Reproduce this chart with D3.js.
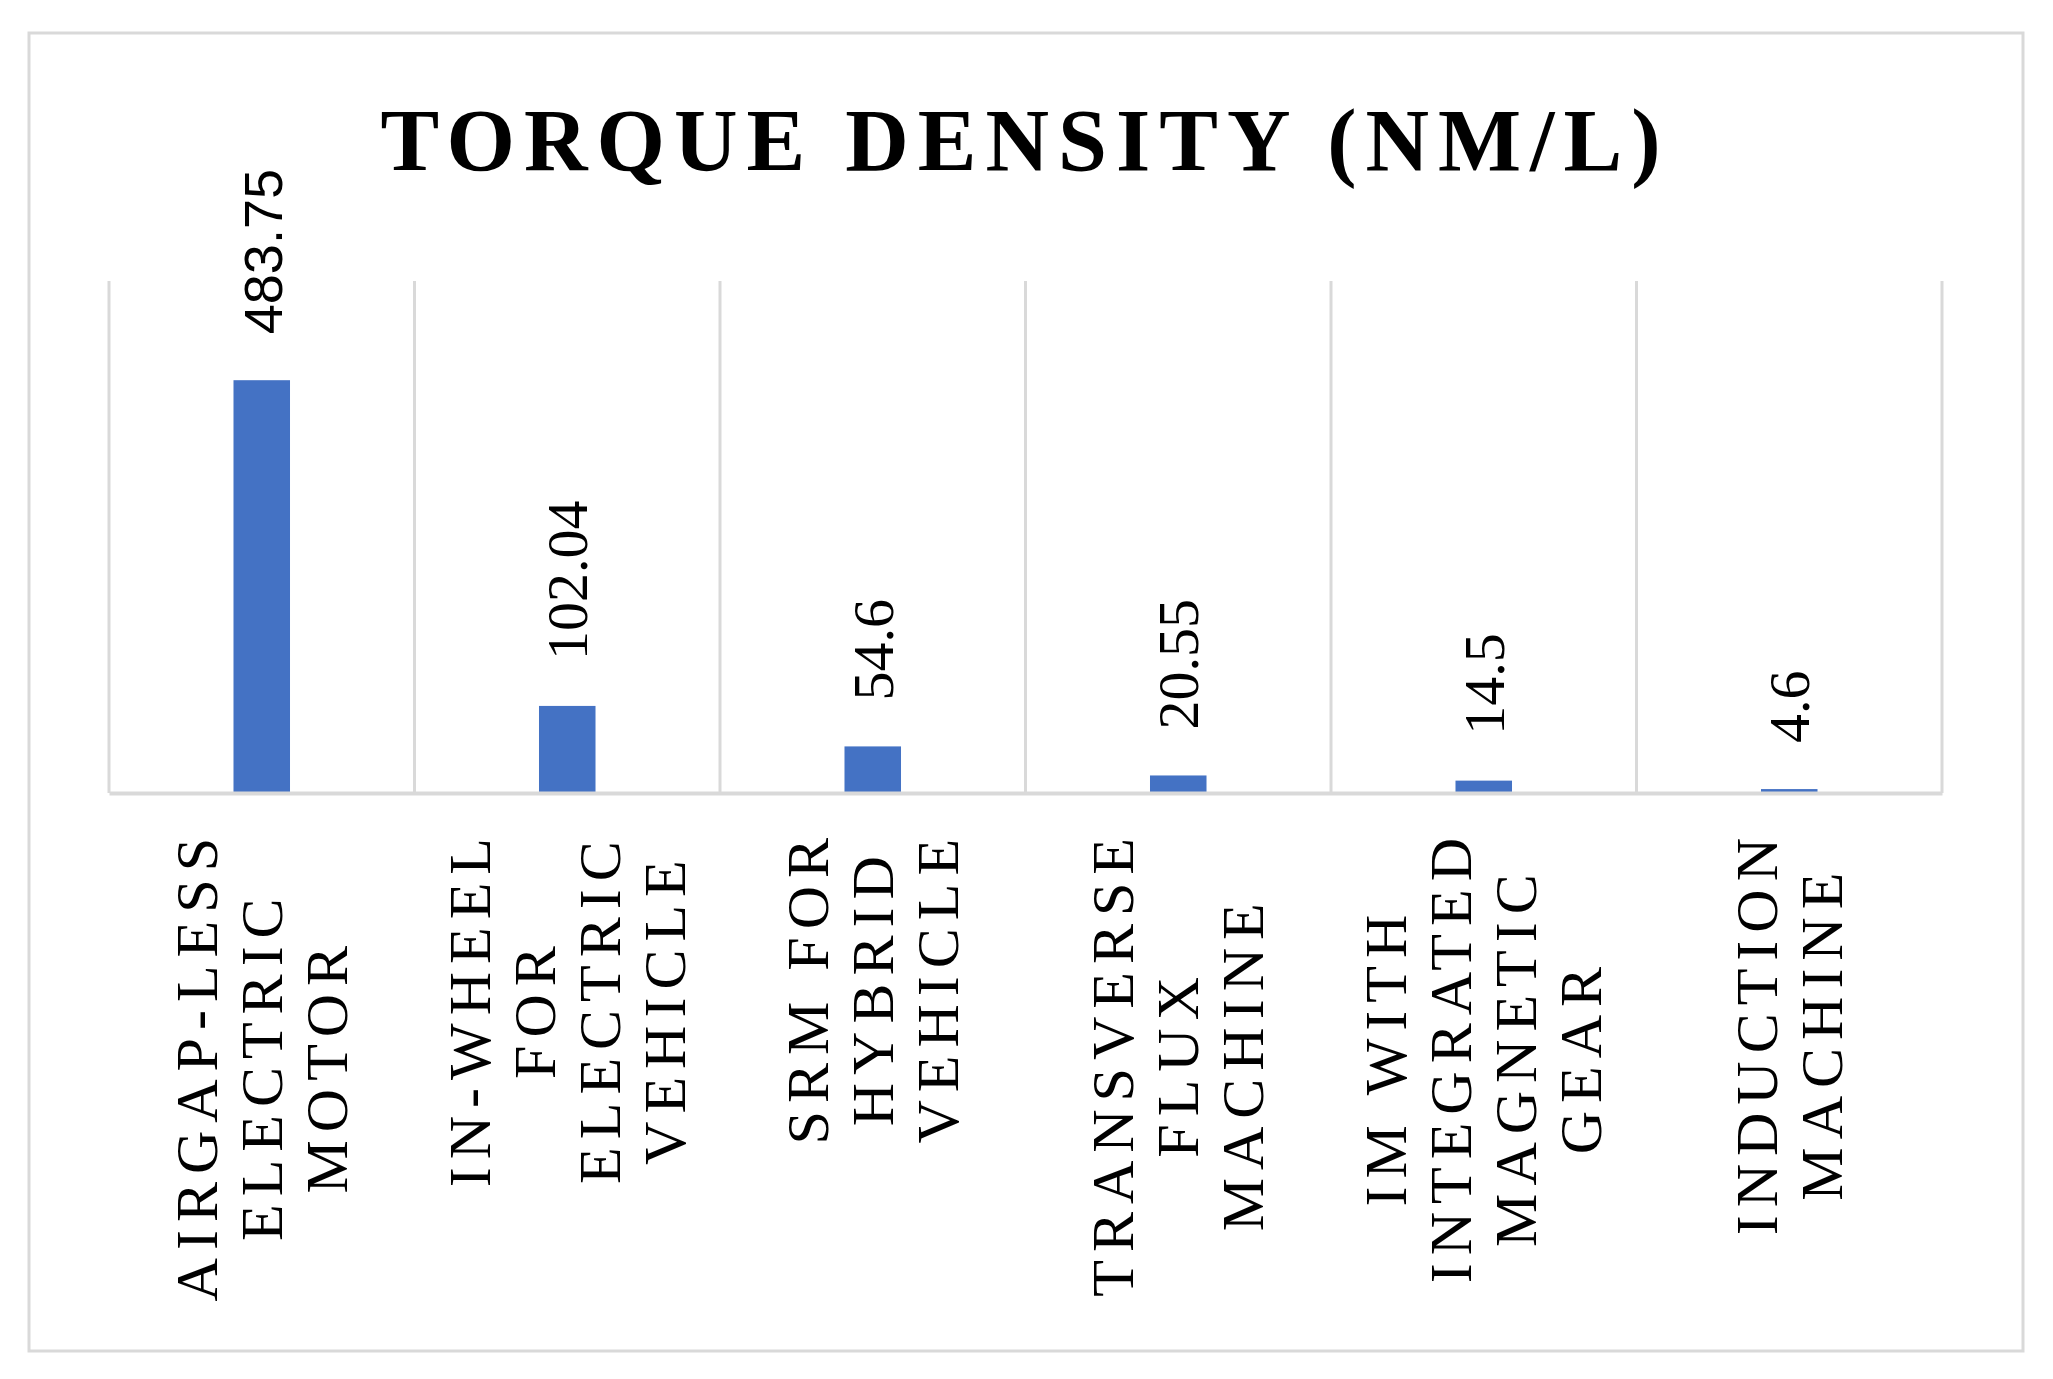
<!DOCTYPE html>
<html>
<head>
<meta charset="utf-8">
<script src="https://cdn.jsdelivr.net/npm/d3@7"></script>
<style>
	body { margin: 0; background: #fff; }
	text { fill: #000; }
</style>
</head>
<body>
<div class="chart"></div>
<script>
var categories = [
	["AIRGAP-LESS", "ELECTRIC", "MOTOR"],
	["IN-WHEEL", "FOR", "ELECTRIC", "VEHICLE"],
	["SRM FOR", "HYBRID", "VEHICLE"],
	["TRANSVERSE", "FLUX", "MACHINE"],
	["IM WITH", "INTEGRATED", "MAGNETIC", "GEAR"],
	["INDUCTION", "MACHINE"]
];
var values = [483.75, 102.04, 54.6, 20.55, 14.5, 4.6];
var valueLabels = ["483.75", "102.04", "54.6", "20.55", "14.5", "4.6"];
var yDomain = [0, 600];
var title = "TORQUE DENSITY (NM/L)";

var serif = "'Liberation Serif', 'Times New Roman', Times, serif";
var sans = "'Liberation Sans', Arial, sans-serif";

var data = values.map(function(v, i) {
	return {i: i, value: v, label: valueLabels[i], lines: categories[i]};
});

function drawChart() {
	var sel = d3.select(".chart").html("");
	var width = 2053;
	var height = 1379;

	var svg = sel.append("svg")
		.attr("width", width)
		.attr("height", height);

	// outer frame
	svg.append("rect")
		.attr("x", 29).attr("y", 33)
		.attr("width", 1994).attr("height", 1318)
		.style("fill", "#fff")
		.style("stroke", "#d9d9d9")
		.style("stroke-width", 3);

	var margin = {top: 281, left: 109, right: 111, bottom: 586};
	var w = width - margin.left - margin.right;
	var h = height - margin.top - margin.bottom;

	var x = d3.scaleBand().domain(data.map(d => d.i)).range([0, w]).paddingInner(0).paddingOuter(0);
	var y = d3.scaleLinear().domain(yDomain).range([h, 0]);
	var barW = x.bandwidth() * 0.185;

	var g = svg.append("g").attr("transform", "translate(" + margin.left + "," + margin.top + ")");

	// vertical gridlines at the category boundaries
	var edges = data.map(d => x(d.i)).concat([w]);
	g.selectAll("line.grid").data(edges).enter().append("line")
		.attr("class", "grid")
		.attr("x1", d => d).attr("x2", d => d)
		.attr("y1", 0).attr("y2", h)
		.style("stroke", "#d9d9d9")
		.style("stroke-width", 3);

	// bars
	g.selectAll("rect.bar").data(data).enter().append("rect")
		.attr("class", "bar")
		.attr("x", d => x(d.i) + x.bandwidth() / 2 - barW / 2)
		.attr("y", d => y(d.value))
		.attr("width", barW)
		.attr("height", d => h - y(d.value))
		.style("fill", "#4472c4");

	// category axis line
	g.append("g")
		.attr("transform", "translate(0," + h + ")")
		.call(d3.axisBottom(x).tickSize(0).tickFormat(""))
		.call(a => a.select(".domain").style("stroke", "#d9d9d9").style("stroke-width", 4));

	// value labels (the first one is set in a sans face in the original)
	g.selectAll("text.val").data(data).enter().append("text")
		.attr("class", "val")
		.attr("transform", d => "translate(" + (x(d.i) + x.bandwidth() / 2 + 20) + "," + (y(d.value) - 46) + ") rotate(-90)")
		.style("font-family", d => d.i == 0 ? sans : serif)
		.style("font-size", d => d.i == 0 ? "54px" : "58px")
		.text(d => d.label);

	// category labels, rotated, lines centred on the longest one
	var top = h + 37;
	var pitch = 65;
	var cats = g.selectAll("g.cat").data(data).enter().append("g").attr("class", "cat");
	cats.each(function(d) {
		var cg = d3.select(this);
		var n = d.lines.length;
		var cx = x(d.i) + x.bandwidth() / 2;
		var texts = cg.selectAll("text").data(d.lines).enter().append("text")
			.style("font-family", serif)
			.style("font-size", "60px")
			.style("letter-spacing", "8px")
			.attr("text-anchor", "middle")
			.text(t => t);
		var maxLen = d3.max(texts.nodes(), n => n.getComputedTextLength());
		var cy = top + maxLen / 2;
		texts.attr("transform", (t, j) => "translate(" + (cx + (j - (n - 1) / 2) * pitch + 20) + "," + cy + ") rotate(-90)");
	});

	// title
	svg.append("text")
		.attr("x", 1025)
		.attr("y", 170)
		.attr("text-anchor", "middle")
		.style("font-family", serif)
		.style("font-size", "88px")
		.style("font-weight", "bold")
		.style("letter-spacing", "9px")
		.text(title);
}

drawChart();
</script>
</body>
</html>
